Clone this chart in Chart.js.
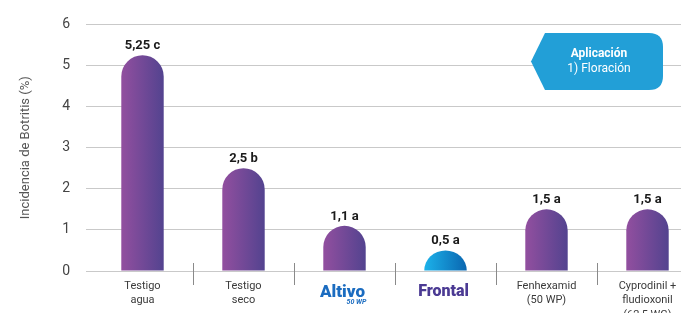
<!DOCTYPE html>
<html><head><meta charset="utf-8">
<script src="https://cdn.jsdelivr.net/npm/chart.js@4/dist/chart.umd.min.js"></script>
<style>html,body{margin:0;padding:0;overflow:hidden;background:#fff}#wrap{width:698px;height:313px}</style>
</head><body><div id="wrap"><canvas id="c" width="698" height="313"></canvas></div>
<script>
const categories = [["Testigo","agua"],["Testigo","seco"],"Altivo","Frontal",["Fenhexamid","(50 WP)"],["Cyprodinil +","fludioxonil","(62,5 WG)"]];
const values = [5.25, 2.5, 1.1, 0.5, 1.5, 1.5];
const letters = ["c","b","a","a","a","a"];
const yTicks = [0,1,2,3,4,5,6];
const yTitle = "Incidencia de Botritis (%)";
const noteTitle = "Aplicación";
const noteText = "1) Floración";
const FONT = "Roboto, 'Liberation Sans', sans-serif";
const BARPCT = 0.42;
const DOME = 3; // index drawn as a dome

function grad(ctx, x, w, i){
  const g = ctx.createLinearGradient(x - w/2, 0, x + w/2, 0);
  if (i === DOME){ g.addColorStop(0,'#1cb2ea'); g.addColorStop(1,'#0a66b0'); }
  else { g.addColorStop(0,'#924f9f'); g.addColorStop(1,'#53438f'); }
  return g;
}
function barFill(c){
  const chart = c.chart, sx = chart.scales.x;
  if (c.dataIndex === DOME) return 'rgba(0,0,0,0)';
  if(!sx || !chart.chartArea) return '#7a4a9a';
  const x = sx.getPixelForValue(c.dataIndex);
  const w = sx.width / categories.length * BARPCT;
  return grad(chart.ctx, x, w, c.dataIndex);
}

const extras = {
  id:'extras',
  afterDatasetsDraw(chart){
    const ctx = chart.ctx, meta = chart.getDatasetMeta(0), sx = chart.scales.x, a = chart.chartArea;
    ctx.save();
    const d = meta.data[DOME];
    ctx.fillStyle = grad(ctx, d.x, d.width, DOME);
    ctx.beginPath();
    ctx.ellipse(d.x, d.base, d.width/2, d.base - d.y, 0, Math.PI, 2*Math.PI);
    ctx.closePath(); ctx.fill();
    ctx.fillStyle = '#1a1a1a'; ctx.font = "bold 13px " + FONT; ctx.textAlign = 'center'; ctx.textBaseline = 'alphabetic';
    meta.data.forEach((b,i)=>{ ctx.fillText(String(values[i]).replace('.',',') + ' ' + letters[i], b.x, b.y - 6); });
    ctx.strokeStyle = '#8a8a8a'; ctx.lineWidth = 1;
    for(let i=0;i<categories.length-1;i++){
      const x = Math.round((sx.getPixelForValue(i)+sx.getPixelForValue(i+1))/2)+0.5;
      ctx.beginPath(); ctx.moveTo(x, a.bottom-8); ctx.lineTo(x, a.bottom+14); ctx.stroke();
    }
    const x2 = sx.getPixelForValue(2), x3 = sx.getPixelForValue(3);
    ctx.textAlign='center'; ctx.textBaseline='alphabetic';
    ctx.font = "900 17px " + FONT; ctx.fillStyle = '#1b6cc0';
    ctx.fillText(categories[2], x2 - 2, a.bottom + 26);
    ctx.font = "italic bold 7px " + FONT; ctx.fillStyle = '#1b6cc0';
    ctx.fillText("50 WP", x2 + 12, a.bottom + 33);
    ctx.font = "900 16px " + FONT; ctx.fillStyle = '#4b3a93';
    ctx.fillText(categories[3], x3 - 2, a.bottom + 25);
    const L = 531, T = 33, B = 90, R = 663, r = 14, mid = (T+B)/2;
    ctx.fillStyle = '#229fd7';
    ctx.beginPath();
    ctx.moveTo(L, mid); ctx.lineTo(L+14, T); ctx.lineTo(R - r, T);
    ctx.quadraticCurveTo(R, T, R, T + r); ctx.lineTo(R, B - r); ctx.quadraticCurveTo(R, B, R - r, B);
    ctx.lineTo(L+14, B); ctx.closePath(); ctx.fill();
    ctx.fillStyle = '#fff'; ctx.textAlign = 'center';
    ctx.font = "bold 12px " + FONT; ctx.fillText(noteTitle, 599, 57);
    ctx.font = "12px " + FONT; ctx.fillText(noteText, 599, 72);
    ctx.restore();
  }
};

new Chart(document.getElementById('c'), {
  type:'bar',
  data:{ labels: categories, datasets:[{ data: values, backgroundColor: barFill,
    borderRadius: {topLeft: 30, topRight: 30, bottomLeft: 0, bottomRight: 0}, borderSkipped: 'bottom',
    categoryPercentage: 1, barPercentage: BARPCT }]},
  options:{
    responsive:false, animation:false, devicePixelRatio:1,
    layout:{ padding:{ top: 15, left: 0, right: 0, bottom: 0 } },
    plugins:{ legend:{display:false}, tooltip:{enabled:false} },
    scales:{
      x:{ grid:{ display:false, drawTicks:false }, border:{ display:false },
        ticks:{ color:'#3a3a3a', font:{ family: FONT, size: 11, lineHeight: 1.3 }, padding: 8, maxRotation:0, autoSkip:false,
          callback:(v,i)=> (i===2||i===3) ? '' : categories[i] },
        afterFit: s => { s.height = 42; } },
      y:{ min:0, max:6, afterBuildTicks: s => { s.ticks = yTicks.map(v=>({value:v})); },
        grid:{ color:'#c9c9c9', lineWidth:1, drawTicks:true, tickLength:6 },
        border:{ display:false },
        ticks:{ color:'#444', font:{ family: FONT, size: 14 }, padding: 16 },
        title:{ display:true, text: yTitle, color:'#555', font:{ family: FONT, size: 13 }, padding:{top:18,bottom:0} },
        afterFit: s => { s.width = 92; } }
    }
  },
  plugins:[extras]
});
</script></body></html>
